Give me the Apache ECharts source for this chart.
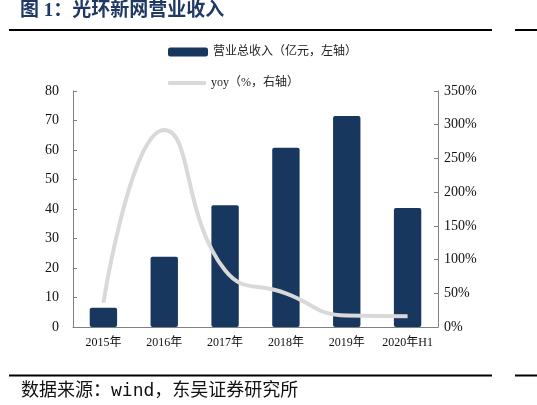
<!DOCTYPE html>
<html><head><meta charset="utf-8">
<script src="https://cdn.jsdelivr.net/npm/echarts@6/dist/echarts.min.js"></script>
<style>html,body{margin:0;padding:0;background:#fff}#c{width:537px;height:405px}</style>
</head><body><div id="c"></div>
<script>
const categories = ['2015年','2016年','2017年','2018年','2019年','2020年H1'];
const revenue = [6.5, 23.8, 41.3, 60.8, 71.5, 40.3];
const yoy = [36, 292, 84, 50, 17, 16];
const leftTicks = [0, 80, 10];
const rightTicks = [0, 350, 50];

const serif = '"Liberation Serif", "Noto Sans CJK SC", serif';
const chart = echarts.init(document.getElementById('c'));
chart.setOption({
  animation: false,
  backgroundColor: '#fff',
  title: {
    text: '图 1：光环新网营业收入',
    left: 20, top: 2, padding: 0,
    textStyle: {color: '#1F3864', fontSize: 19, fontWeight: 'bold', fontFamily: serif}
  },
  graphic: [
    {type: 'line', shape: {x1: 9, y1: 30, x2: 492, y2: 30}, style: {stroke: '#000', lineWidth: 2}},
    {type: 'line', shape: {x1: 515, y1: 30, x2: 537, y2: 30}, style: {stroke: '#000', lineWidth: 2}},
    {type: 'line', shape: {x1: 9, y1: 375.5, x2: 492, y2: 375.5}, style: {stroke: '#000', lineWidth: 2}},
    {type: 'line', shape: {x1: 515, y1: 375.5, x2: 537, y2: 375.5}, style: {stroke: '#000', lineWidth: 2}},
    {type: 'text', left: 21, top: 382, style: {text: '数据来源：wind，东吴证券研究所', fontSize: 18, fill: '#111', fontFamily: '"DejaVu Sans Mono", "Noto Sans CJK SC", monospace'}}
  ],
  legend: [
    {left: 168, top: 46, padding: 0, itemWidth: 40, itemHeight: 9,
      textStyle: {fontSize: 12, color: '#222', fontFamily: serif},
      data: [{name: '营业总收入（亿元，左轴）', icon: 'roundRect'}]},
    {left: 168, top: 77, padding: 0, itemWidth: 38, itemHeight: 4,
      textStyle: {fontSize: 12, color: '#222', fontFamily: serif},
      data: [{name: 'yoy（%，右轴）', icon: 'roundRect'}]}
  ],
  grid: {left: 73, right: 99, top: 91, bottom: 78},
  xAxis: {
    type: 'category', data: categories,
    axisLine: {lineStyle: {color: '#808080'}},
    axisTick: {inside: true, length: 4, lineStyle: {color: '#808080'}},
    axisLabel: {color: '#111', fontSize: 12, fontFamily: serif, margin: 10, interval: 0}
  },
  yAxis: [
    {type: 'value', min: leftTicks[0], max: leftTicks[1], interval: leftTicks[2],
      splitLine: {show: false},
      axisLine: {show: true, lineStyle: {color: '#808080'}},
      axisTick: {show: true, inside: true, length: 4, lineStyle: {color: '#808080'}},
      axisLabel: {color: '#111', fontSize: 14, fontFamily: serif, margin: 14}},
    {type: 'value', min: rightTicks[0], max: rightTicks[1], interval: rightTicks[2],
      splitLine: {show: false},
      axisLine: {show: true, lineStyle: {color: '#808080'}},
      axisTick: {show: true, inside: true, length: 4, lineStyle: {color: '#808080'}},
      axisLabel: {color: '#111', fontSize: 14, fontFamily: serif, margin: 6, formatter: '{value}%'}}
  ],
  series: [
    {name: '营业总收入（亿元，左轴）', type: 'bar', data: revenue, barWidth: '45%',
      itemStyle: {color: '#17375E', borderRadius: 2}},
    {name: 'yoy（%，右轴）', type: 'line', yAxisIndex: 1, data: yoy, smooth: true,
      showSymbol: false, symbol: 'none',
      lineStyle: {color: '#D9D9D9', width: 4}, itemStyle: {color: '#D9D9D9'}}
  ]
});
</script></body></html>
